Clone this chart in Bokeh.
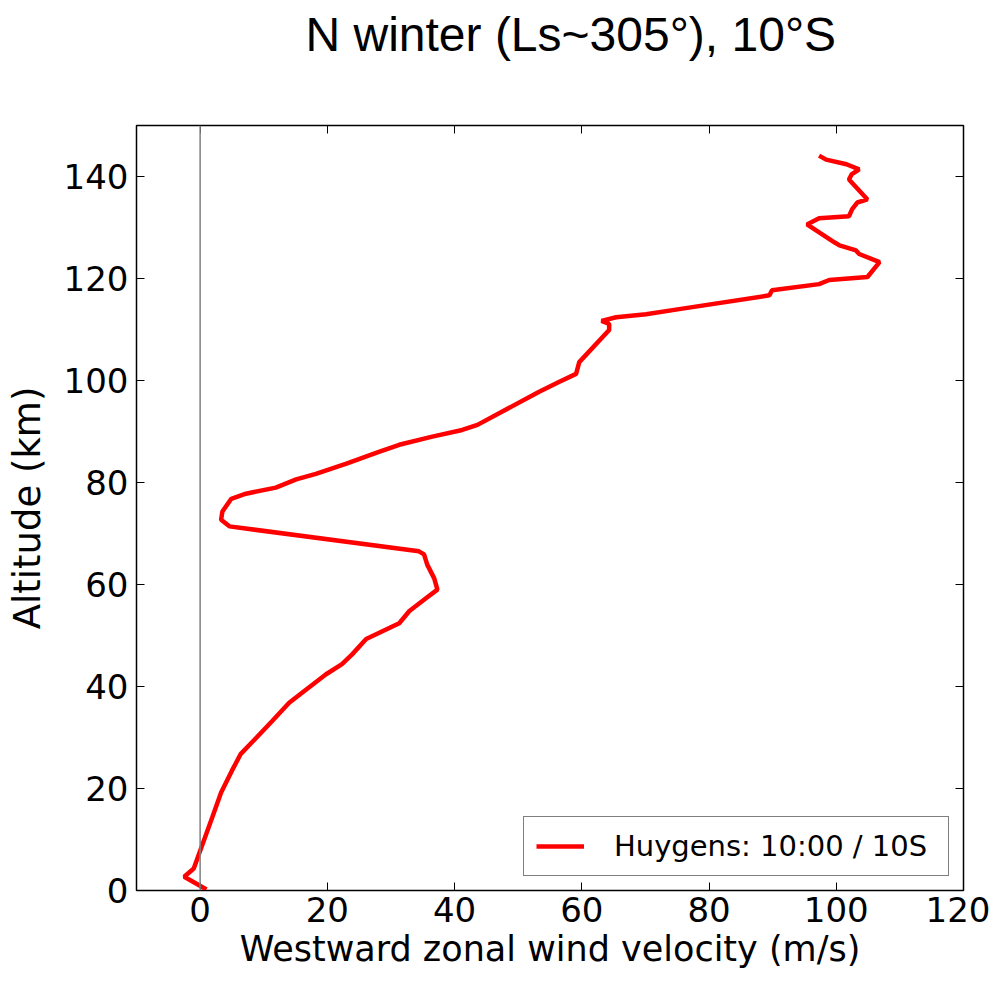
from bokeh.plotting import figure
from bokeh.models import Range1d, LinearAxis, Span, Legend, LegendItem, Title, FixedTicker
from bokeh.embed import file_html
from bokeh.resources import INLINE

wind = [1.0, -2.5, -1.0, 1.9, 3.3, 5.0, 6.4, 8.8, 11.3, 14.0, 17.4, 19.8, 22.3, 23.9, 26.1,
        31.3, 32.9, 35.5, 37.3, 36.8, 35.7, 35.2, 34.4, 4.6, 3.3, 3.5, 4.9, 7.2, 11.9, 15.1,
        18.2, 23.0, 28.1, 31.3, 36.5, 41.2, 43.6, 53.3, 56.4, 59.1, 59.6, 64.3, 64.3, 63.1,
        65.4, 70.1, 75.3, 89.5, 89.9, 97.3, 98.9, 104.9, 106.8, 103.6, 103.1, 100.5, 99.7,
        95.4, 97.3, 102.0, 102.5, 103.3, 104.9, 102.0, 102.4, 103.6, 101.6, 98.4, 97.3]
altitude = [0.2, 2.7, 4.3, 14.3, 19.2, 23.5, 26.8, 29.9, 33.2, 36.8, 40.1, 42.4, 44.4, 46.3,
            49.3, 52.4, 54.8, 57.3, 59.0, 61.2, 63.9, 65.9, 66.5, 71.4, 72.7, 74.3, 76.8, 77.8,
            79.0, 80.6, 81.7, 83.7, 86.0, 87.4, 89.0, 90.3, 91.3, 97.8, 99.7, 101.3, 103.6,
            109.9, 111.1, 111.7, 112.4, 113.0, 114.0, 116.7, 117.7, 118.9, 119.7, 120.3, 123.2,
            124.8, 125.5, 126.5, 127.1, 130.6, 131.8, 132.2, 133.6, 134.9, 135.5, 139.4, 140.4,
            141.4, 142.4, 143.3, 144.1]
x_ticks = [0, 20, 40, 60, 80, 100, 120]
y_ticks = [0, 20, 40, 60, 80, 100, 120, 140]
title_text = "N winter (Ls~305°), 10°S"
legend_label = "Huygens: 10:00 / 10S"

p = figure(width=990, height=981, output_backend="svg", toolbar_location=None,
           x_range=Range1d(-10, 120), y_range=Range1d(0, 150),
           min_border_left=136, min_border_right=27, min_border_top=125, min_border_bottom=91)
p.grid.visible = False
p.outline_line_color = "black"
p.outline_line_width = 1.5

for ax in [p.xaxis[0], p.yaxis[0]]:
    ax.major_tick_in = 8
    ax.major_tick_out = 0
    ax.minor_tick_line_color = None
    ax.major_label_text_font = "DejaVu Sans"
    ax.major_label_text_font_size = "34px"
    ax.major_label_text_color = "black"
    ax.axis_label_text_font = "DejaVu Sans"
    ax.axis_label_text_font_style = "normal"
    ax.axis_label_text_color = "black"
    ax.axis_line_color = "black"
    ax.major_tick_line_color = "black"
p.xaxis[0].axis_label_text_font_size = "35px"
p.yaxis[0].axis_label_text_font_size = "37px"
p.xaxis[0].ticker = FixedTicker(ticks=x_ticks)
p.yaxis[0].ticker = FixedTicker(ticks=y_ticks)
p.xaxis[0].axis_label = "Westward zonal wind velocity (m/s)"
p.yaxis[0].axis_label = "Altitude (km)"
p.xaxis[0].major_label_standoff = 6
p.yaxis[0].major_label_standoff = 8
p.xaxis[0].axis_label_standoff = 4
p.yaxis[0].axis_label_standoff = 12

# inward ticks on top and right (no labels)
top_ax = LinearAxis(ticker=FixedTicker(ticks=x_ticks), major_label_text_font_size="0px",
                    major_label_text_color=None, major_tick_in=8, major_tick_out=0,
                    minor_tick_line_color=None, axis_line_color=None, major_label_standoff=0)
right_ax = LinearAxis(ticker=FixedTicker(ticks=y_ticks), major_label_text_font_size="0px",
                      major_label_text_color=None, major_tick_in=8, major_tick_out=0,
                      minor_tick_line_color=None, axis_line_color=None, major_label_standoff=0)
p.add_layout(top_ax, "above")
p.add_layout(right_ax, "right")

# invisible spacer between frame and title
spacer_ax = LinearAxis(ticker=FixedTicker(ticks=x_ticks), major_label_text_font_size="0px",
                       major_label_text_color=None, major_tick_in=0, major_tick_out=61,
                       major_tick_line_color=None, minor_tick_line_color=None,
                       axis_line_color=None, major_label_standoff=0)
p.add_layout(spacer_ax, "above")

p.add_layout(Span(location=0, dimension="height", line_color="gray", line_width=1.5))

r = p.line(wind, altitude, line_color="red", line_width=4.5)

legend = Legend(items=[LegendItem(label=legend_label, renderers=[r])],
                location="bottom_right", label_text_font="DejaVu Sans",
                label_text_font_size="29px", label_text_color="black",
                border_line_color="black", border_line_width=1.5,
                glyph_width=48, glyph_height=30, padding=12, spacing=0,
                margin=14, label_standoff=30, label_width=322)
p.add_layout(legend)

t = Title(text=title_text, align="left", text_font="Liberation Sans",
          text_font_size="48px", text_font_style="normal", text_color="black",
          offset=169, standoff=8)
p.add_layout(t, "above")

open("out.html", "w").write(file_html(p, INLINE))
